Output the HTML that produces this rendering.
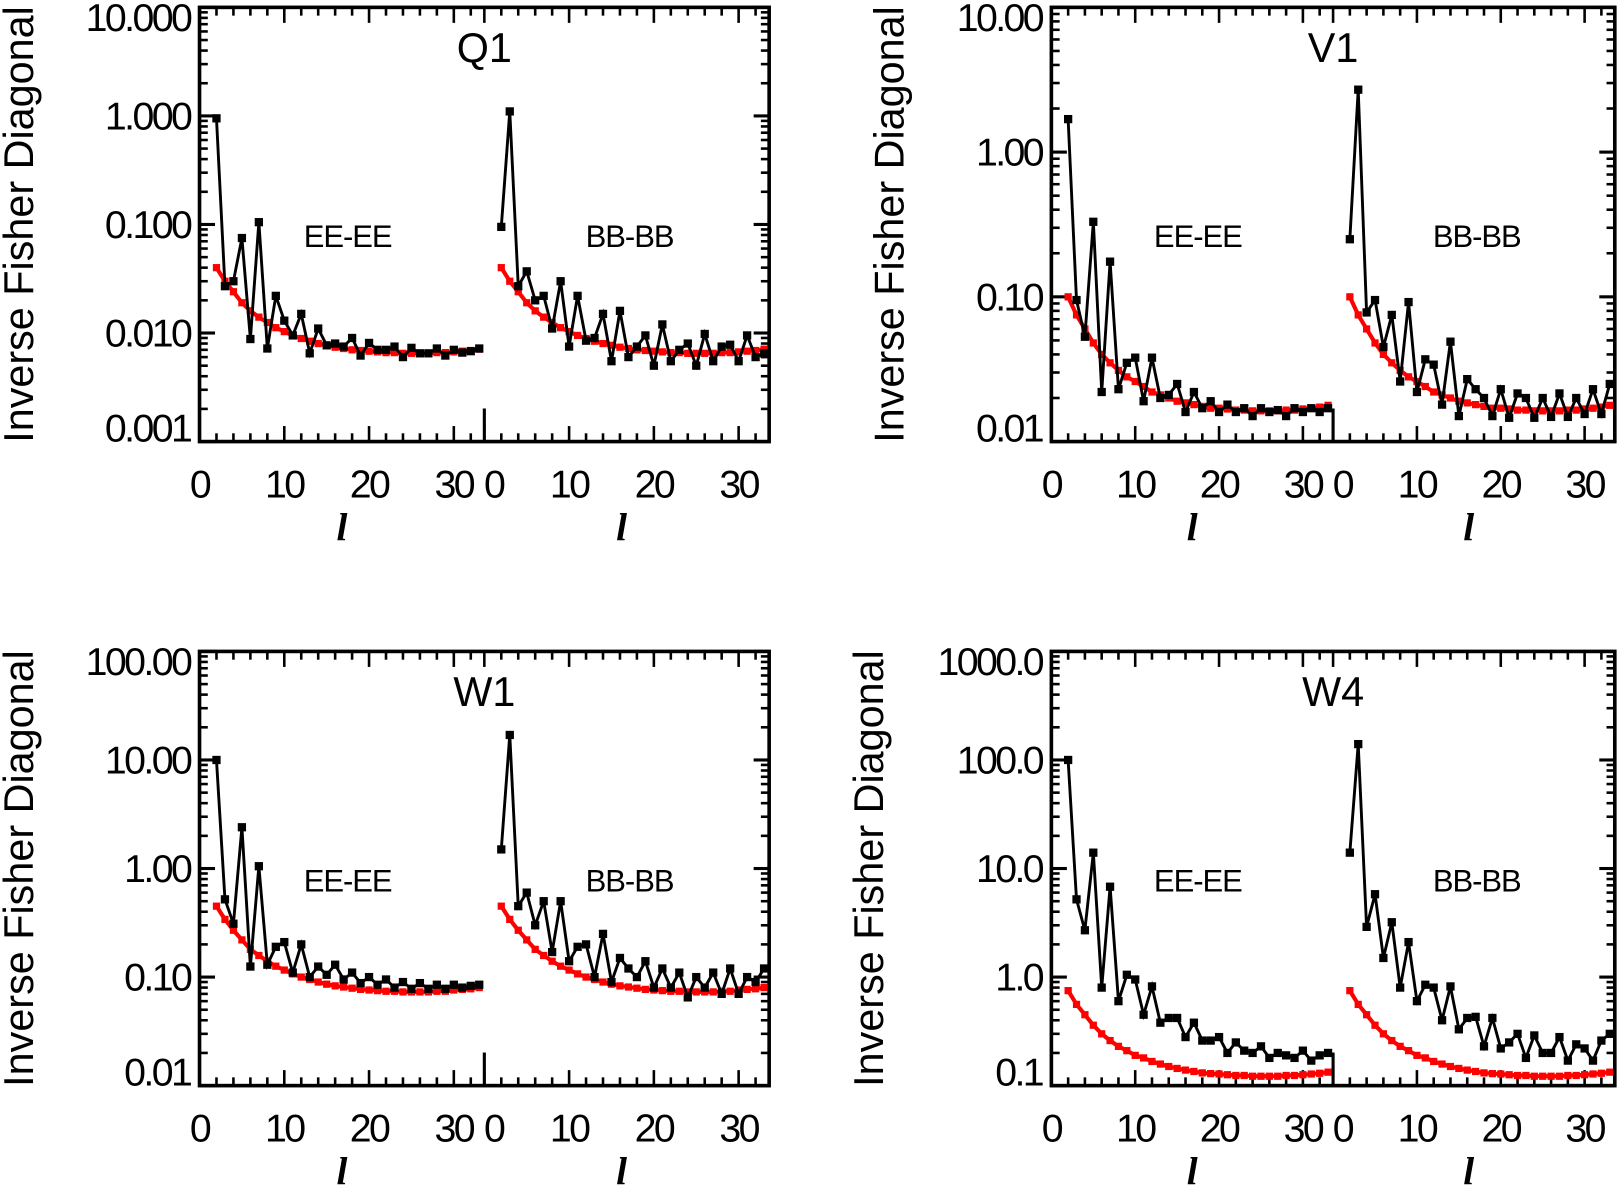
<!DOCTYPE html>
<html><head><meta charset="utf-8"><style>
html,body{margin:0;padding:0;background:#fff;}
svg{display:block;}
text{font-family:"Liberation Sans",sans-serif;fill:#000;}
</style></head><body>
<svg id="fig" width="1621" height="1185" viewBox="0 0 1568 1146" xmlns="http://www.w3.org/2000/svg"></svg>
<script>
const ells = [2,3,4,5,6,7,8,9,10,11,12,13,14,15,16,17,18,19,20,21,22,23,24,25,26,27,28,29,30,31,32,33];
const xTickLabels = ["0","10","20","30"];
const xTickValues = [0,10,20,30];
const panelNames = ["Q1","V1","W1","W4"];
const q1Ticks = ["10.000","1.000","0.100","0.010","0.001"];
const v1Ticks = ["10.00","1.00","0.10","0.01"];
const w1Ticks = ["100.00","10.00","1.00","0.10","0.01"];
const w4Ticks = ["1000.0","100.0","10.0","1.0","0.1"];
const q1EE = [0.95,0.027,0.03,0.075,0.0088,0.105,0.0072,0.022,0.013,0.0095,0.015,0.0065,0.011,0.0077,0.008,0.0075,0.009,0.0062,0.0081,0.007,0.007,0.0075,0.006,0.0073,0.0065,0.0065,0.0072,0.0062,0.007,0.0066,0.0068,0.0072];
const q1BB = [0.095,1.1,0.027,0.037,0.02,0.022,0.011,0.03,0.0075,0.022,0.0085,0.009,0.015,0.0055,0.016,0.006,0.0075,0.0095,0.005,0.012,0.0055,0.007,0.008,0.005,0.0098,0.0055,0.0075,0.0078,0.0055,0.0095,0.006,0.0065];
const q1Red = [0.040,0.030,0.024,0.019,0.016,0.014,0.0125,0.0112,0.0103,0.0095,0.0089,0.0084,0.0080,0.0077,0.0074,0.0072,0.0070,0.0069,0.0068,0.0067,0.0066,0.0066,0.0065,0.0065,0.0065,0.0065,0.0066,0.0066,0.0067,0.0068,0.0069,0.0071];
const v1EE = [1.69,0.095,0.053,0.33,0.022,0.175,0.023,0.035,0.038,0.019,0.038,0.020,0.021,0.025,0.016,0.022,0.017,0.019,0.016,0.018,0.016,0.017,0.015,0.017,0.016,0.0165,0.015,0.017,0.016,0.017,0.016,0.017];
const v1BB = [0.25,2.7,0.078,0.095,0.045,0.075,0.026,0.092,0.022,0.037,0.034,0.018,0.049,0.015,0.027,0.023,0.02,0.015,0.023,0.0146,0.0215,0.02,0.0146,0.02,0.0148,0.0215,0.0148,0.02,0.0155,0.023,0.0155,0.025];
const v1Red = [0.100,0.075,0.060,0.048,0.040,0.035,0.031,0.028,0.026,0.024,0.022,0.021,0.020,0.019,0.0185,0.018,0.0175,0.017,0.017,0.0168,0.0165,0.0165,0.0163,0.0163,0.0163,0.0163,0.0165,0.0165,0.0168,0.017,0.0173,0.0178];
const w1EE = [10,0.52,0.31,2.4,0.125,1.05,0.13,0.19,0.21,0.11,0.2,0.1,0.125,0.105,0.13,0.095,0.11,0.088,0.1,0.085,0.095,0.08,0.09,0.078,0.088,0.078,0.085,0.078,0.085,0.08,0.083,0.085];
const w1BB = [1.5,17,0.45,0.6,0.3,0.5,0.17,0.5,0.14,0.19,0.2,0.1,0.25,0.09,0.15,0.12,0.1,0.14,0.08,0.12,0.08,0.11,0.065,0.1,0.08,0.11,0.07,0.12,0.07,0.1,0.09,0.12];
const w1Red = [0.45,0.34,0.27,0.22,0.18,0.158,0.14,0.126,0.116,0.107,0.1,0.095,0.09,0.086,0.083,0.081,0.079,0.077,0.076,0.075,0.074,0.074,0.073,0.073,0.073,0.073,0.074,0.074,0.076,0.077,0.078,0.08];
const w4EE = [100,5.2,2.7,14,0.8,6.8,0.6,1.05,0.95,0.45,0.82,0.38,0.42,0.42,0.28,0.38,0.26,0.26,0.28,0.2,0.25,0.21,0.2,0.23,0.18,0.2,0.19,0.18,0.21,0.17,0.19,0.2];
const w4BB = [14,140,2.9,5.8,1.5,3.2,0.8,2.1,0.6,0.85,0.8,0.4,0.82,0.33,0.42,0.43,0.23,0.42,0.22,0.25,0.3,0.18,0.29,0.2,0.2,0.28,0.17,0.24,0.22,0.17,0.26,0.3];
const w4Red = [0.75,0.56,0.45,0.36,0.3,0.26,0.23,0.21,0.19,0.18,0.167,0.158,0.15,0.144,0.139,0.135,0.131,0.129,0.128,0.126,0.124,0.124,0.122,0.122,0.122,0.122,0.124,0.124,0.126,0.128,0.13,0.133];

const NS="http://www.w3.org/2000/svg";
const svg=document.getElementById('fig');
function mk(tag,attrs,parent){const e=document.createElementNS(NS,tag);for(const k in attrs)e.setAttribute(k,attrs[k]);(parent||svg).appendChild(e);return e;}

const panels=[
 {name:panelNames[0],x0:193,x1:744,y0:7,y1:427,top:10,dec:4,ticks:q1Ticks,ee:q1EE,bb:q1BB,red:q1Red,ytx:16},
 {name:panelNames[1],x0:1017,x1:1562,y0:7,y1:427,top:10,dec:3,ticks:v1Ticks,ee:v1EE,bb:v1BB,red:v1Red,ytx:858},
 {name:panelNames[2],x0:193,x1:744,y0:630,y1:1050,top:100,dec:4,ticks:w1Ticks,ee:w1EE,bb:w1BB,red:w1Red,ytx:16},
 {name:panelNames[3],x0:1017,x1:1562,y0:630,y1:1050,top:1000,dec:4,ticks:w4Ticks,ee:w4EE,bb:w4BB,red:w4Red,ytx:838}
];

panels.forEach(p=>{
 const g=mk('g',{});
 
 
 const mid=(p.x0+p.x1)/2;
 const sw=(mid-p.x0);
 const xMax=33.6;
 const yS=v=>p.y0+(Math.log10(p.top)-Math.log10(v))*(p.y1-p.y0)/p.dec;
 const xS=(l,half)=>(half?mid:p.x0)+l*sw/xMax;
 const fr=mk('rect',{x:p.x0,y:p.y0,width:p.x1-p.x0,height:p.y1-p.y0,fill:'none',stroke:'#000','stroke-width':3.5},g);
 
 
 const dv=mk('line',{x1:mid,x2:mid,y1:p.y1,y2:p.y1-32,stroke:'#000','stroke-width':3},g);
 
 
 for(let d=0;d<=p.dec;d++){
  const y=p.y0+d*(p.y1-p.y0)/p.dec;
  mk('line',{x1:p.x0,x2:p.x0+15,y1:y,y2:y,stroke:'#000','stroke-width':3},g);
  mk('line',{x1:p.x1,x2:p.x1-15,y1:y,y2:y,stroke:'#000','stroke-width':3},g);
  const ly=Math.min(Math.max(y,p.y0+10),p.y1-13);
  const t=mk('text',{x:p.x0-9,y:ly+13,'font-size':38,'letter-spacing':-2.5,'text-anchor':'end'},g);
  t.textContent=p.ticks[d];
  
  
  if(d<p.dec){
   const base=p.top/Math.pow(10,d+1);
   for(let m=2;m<=9;m++){const yy=yS(base*m);
    mk('line',{x1:p.x0,x2:p.x0+8,y1:yy,y2:yy,stroke:'#000','stroke-width':2.5},g);
    mk('line',{x1:p.x1,x2:p.x1-8,y1:yy,y2:yy,stroke:'#000','stroke-width':2.5},g);}
  }
 }
 [0,1].forEach(h=>{
  for(let l=0;l<=33;l+=2){
   const x=xS(l,h);const major=l%10===0;const len=major?15:8;
   mk('line',{x1:x,x2:x,y1:p.y1,y2:p.y1-len,stroke:'#000','stroke-width':2.5},g);
   mk('line',{x1:x,x2:x,y1:p.y0,y2:p.y0+len,stroke:'#000','stroke-width':2.5},g);
  }
  xTickValues.forEach((v,i)=>{
   const off=(h===1&&v===0)?9:0;
   const t=mk('text',{x:xS(v,h)+off,y:p.y1+54,'font-size':38,'letter-spacing':-2.5,'text-anchor':'middle'},g);
   t.textContent=xTickLabels[i];
   
   
  });
  const xl=mk('text',{x:p.x0+sw*(h+0.5)+(h?-5:0),y:p.y1+95,'font-size':38,'font-style':'italic','text-anchor':'middle','style':'font-family:"Liberation Serif",serif;font-weight:bold'},g);
  xl.textContent='l';
  
  
 });
 const yt=mk('text',{x:0,y:0,'font-size':40,'text-anchor':'middle',transform:`translate(${p.ytx+16},${(p.y0+p.y1)/2}) rotate(-90)`},g);
 yt.textContent='Inverse Fisher Diagonal';
 
 
 const tt=mk('text',{x:mid,y:p.y0+53,'font-size':40,'text-anchor':'middle'},g);
 tt.textContent=p.name;
 
 
 const l1=mk('text',{x:p.x0+sw*0.52,y:p.y0+232,'font-size':30,'letter-spacing':-1,'text-anchor':'middle'},g);
 l1.textContent='EE-EE';
 
 
 const l2=mk('text',{x:mid+sw*0.51,y:p.y0+232,'font-size':30,'letter-spacing':-1,'text-anchor':'middle'},g);
 l2.textContent='BB-BB';
 
 
 const draw=(vals,h,color,sz,w,nm)=>{
  const pts=vals.map((v,i)=>xS(ells[i],h).toFixed(1)+','+yS(v).toFixed(1)).join(' ');
  const pl=mk('polyline',{points:pts,fill:'none',stroke:color,'stroke-width':w},g);
  
  
  vals.forEach((v,i)=>{
   const r=mk('rect',{x:xS(ells[i],h)-sz/2,y:yS(v)-sz/2,width:sz,height:sz,fill:color},g);
   
   
  });
 };
 draw(p.red,0,'#ff0000',7,4,'ee-theory');
 draw(p.red,1,'#ff0000',7,4,'bb-theory');
 draw(p.ee,0,'#000',8,2.8,'ee-measured');
 draw(p.bb,1,'#000',8,2.8,'bb-measured');
});
</script>
</body></html>
